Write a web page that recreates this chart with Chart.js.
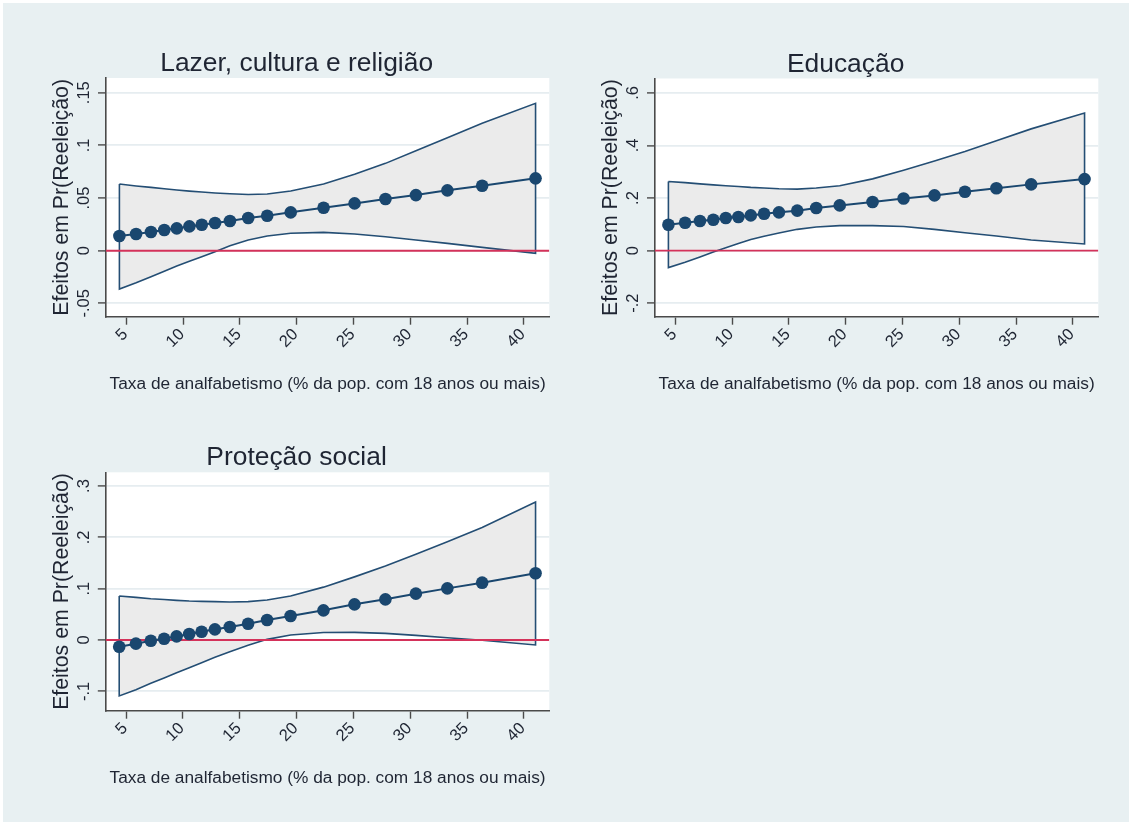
<!DOCTYPE html>
<html>
<head>
<meta charset="utf-8">
<title>Efeitos marginais da taxa de analfabetismo</title>
<script src="https://cdn.jsdelivr.net/npm/chart.js@4.4.1/dist/chart.umd.min.js"></script>
<style>
  html, body { margin: 0; padding: 0; background: #ffffff; }
  #frame { position: absolute; left: 3px; top: 3px; width: 1126px; height: 819px; background: #e8f0f2; }
  canvas { position: absolute; }
</style>
</head>
<body>
<div id="frame"></div>
<canvas id="lazer" width="560" height="410" style="left:0px;top:0px"></canvas>
<canvas id="educacao" width="560" height="410" style="left:560px;top:0px"></canvas>
<canvas id="protecao" width="560" height="410" style="left:0px;top:394px"></canvas>
<script>
// Illiteracy rate (% of population aged 18+) at which the effects are evaluated
const illiteracy = [4.40, 5.87, 7.18, 8.35, 9.45, 10.56, 11.65, 12.82, 14.13, 15.74,
                    17.41, 19.48, 22.37, 25.10, 27.82, 30.50, 33.27, 36.33, 41.03];

// Lazer, cultura e religião: effect and 95% CI
const lazerEffect = [0.0139, 0.0158, 0.0177, 0.0196, 0.0212, 0.0231, 0.0247, 0.0263, 0.0282, 0.0310,
                     0.0332, 0.0364, 0.0408, 0.0449, 0.0491, 0.0528, 0.0573, 0.0617, 0.0687];
const lazerUpper  = [0.0633, 0.0615, 0.0601, 0.0588, 0.0576, 0.0566, 0.0557, 0.0548, 0.0541, 0.0534,
                     0.0538, 0.0566, 0.0633, 0.0725, 0.0829, 0.0949, 0.1073, 0.1209, 0.1399];
const lazerLower  = [-0.0364, -0.0305, -0.0247, -0.0195, -0.0146, -0.0100, -0.0057, -0.0009, 0.0047, 0.0101,
                     0.0139, 0.0165, 0.0174, 0.0158, 0.0133, 0.0101, 0.0070, 0.0032, -0.0025];

// Educação: effect and 95% CI
const educEffect = [0.0987, 0.1063, 0.1127, 0.1177, 0.1240, 0.1278, 0.1340, 0.1405, 0.1456, 0.1520,
                    0.1620, 0.1720, 0.1850, 0.1980, 0.2100, 0.2240, 0.2370, 0.2520, 0.2720];
const educUpper  = [0.263, 0.2585, 0.254, 0.250, 0.247, 0.244, 0.2405, 0.238, 0.2354, 0.234,
                    0.238, 0.247, 0.273, 0.306, 0.341, 0.377, 0.418, 0.463, 0.523];
const educLower  = [-0.0646, -0.044, -0.024, -0.005, 0.0114, 0.027, 0.042, 0.055, 0.067, 0.081,
                    0.090, 0.095, 0.095, 0.092, 0.081, 0.068, 0.0557, 0.0405, 0.0253];

// Proteção social: effect and 95% CI
const protEffect = [-0.0130, -0.0071, -0.0013, 0.0026, 0.0071, 0.0117, 0.0162, 0.0208, 0.0253, 0.0318,
                    0.0390, 0.0468, 0.0578, 0.0695, 0.0792, 0.0903, 0.1006, 0.1117, 0.1300];
const protUpper  = [0.0857, 0.0830, 0.0805, 0.0790, 0.0773, 0.0760, 0.0753, 0.0747, 0.0740, 0.0747,
                    0.0780, 0.0857, 0.1030, 0.1230, 0.1440, 0.1670, 0.1916, 0.2190, 0.2690];
const protLower  = [-0.109, -0.0968, -0.0844, -0.074, -0.0636, -0.054, -0.0442, -0.0338, -0.0227, -0.0104,
                    0.0013, 0.0097, 0.0146, 0.0149, 0.0130, 0.0091, 0.0045, -0.0006, -0.0097];

// Axis ticks and their labels
const xTicks = [5, 10, 15, 20, 25, 30, 35, 40];
const xTickLabels = ['5', '10', '15', '20', '25', '30', '35', '40'];
const lazerYTicks = [-0.05, 0, 0.05, 0.1, 0.15];
const lazerYLabels = ['-.05', '0', '.05', '.1', '.15'];
const educYTicks = [-0.2, 0, 0.2, 0.4, 0.6];
const educYLabels = ['-.2', '0', '.2', '.4', '.6'];
const protYTicks = [-0.1, 0, 0.1, 0.2, 0.3];
const protYLabels = ['-.1', '0', '.1', '.2', '.3'];

const xTitle = 'Taxa de analfabetismo (% da pop. com 18 anos ou mais)';
const yTitle = 'Efeitos em Pr(Reeleição)';

// Styling
const NAVY = '#1a476f';
const BAND = '#ebebeb';
const ZERO = '#d4325a';
const GRID = '#e6edf0';
const AXIS = '#4a4a4a';
const TEXT = '#1f2533';
const FONT = '"Liberation Sans", Arial, Helvetica, sans-serif';

// Plot region, labels and backdrop drawn around the chart area
const panelDecor = {
  id: 'panelDecor',
  beforeDraw(chart) {
    const { ctx, chartArea: a } = chart;
    ctx.save();
    ctx.fillStyle = '#ffffff';
    ctx.fillRect(a.left, a.top, a.right - a.left, a.bottom - a.top);
    ctx.restore();
  },
  afterDraw(chart, args, o) {
    const { ctx, chartArea: a, scales: { x, y } } = chart;
    const cx = (a.left + a.right) / 2;
    const cy = (a.top + a.bottom) / 2;
    ctx.save();
    ctx.fillStyle = TEXT;

    ctx.font = '26.4px ' + FONT;
    ctx.textAlign = 'center';
    ctx.textBaseline = 'alphabetic';
    ctx.fillText(o.title, cx - 31, a.top - 7);

    ctx.font = '17.3px ' + FONT;
    ctx.fillText(xTitle, cx, a.bottom + 72);

    ctx.save();
    ctx.translate(a.left - 38, cy);
    ctx.rotate(-Math.PI / 2);
    ctx.font = '21.3px ' + FONT;
    ctx.textAlign = 'center';
    ctx.fillText(yTitle, 0, 0);
    ctx.restore();

    ctx.font = '16.5px ' + FONT;
    y.ticks.forEach((t, i) => {
      const py = y.getPixelForValue(t.value);
      ctx.save();
      ctx.translate(a.left - 17, py);
      ctx.rotate(-Math.PI / 2);
      ctx.textAlign = 'center';
      ctx.textBaseline = 'alphabetic';
      ctx.fillText(o.yLabels[i], 0, 0);
      ctx.restore();
    });

    x.ticks.forEach((t, i) => {
      const px = x.getPixelForValue(t.value);
      ctx.save();
      ctx.translate(px - 1, a.bottom + 15);
      ctx.rotate(-Math.PI / 4);
      ctx.textAlign = 'right';
      ctx.textBaseline = 'middle';
      ctx.fillText(xTickLabels[i], 0, 0);
      ctx.restore();
    });
    ctx.restore();
  }
};

function drawPanel(id, cfg) {
  const canvas = document.getElementById(id);
  const W = canvas.width, H = canvas.height;
  const p = cfg.plot;
  const xMin = 3.22, xMax = 42.24;

  const effect = illiteracy.map((v, i) => ({ x: v, y: cfg.effect[i] }));
  // closed outline of the confidence band: upper edge forward, lower edge back
  const band = illiteracy.map((v, i) => ({ x: v, y: cfg.upper[i] }))
    .concat(illiteracy.map((v, i) => ({ x: v, y: cfg.lower[i] })).reverse());
  band.push({ x: illiteracy[0], y: cfg.upper[0] });

  new Chart(canvas, {
    type: 'line',
    data: {
      datasets: [
        {
          data: effect, order: 0, borderColor: NAVY, borderWidth: 2,
          pointRadius: 6.3, pointBackgroundColor: NAVY, pointBorderWidth: 0,
          pointHoverRadius: 6.3, fill: false, tension: 0
        },
        {
          data: [{ x: xMin, y: 0 }, { x: xMax, y: 0 }], order: 1,
          borderColor: ZERO, borderWidth: 1.9, pointRadius: 0, fill: false
        },
        {
          data: band, order: 2, borderColor: '#244e74', borderWidth: 1.6,
          backgroundColor: BAND, fill: 'shape', pointRadius: 0, tension: 0
        }
      ]
    },
    options: {
      responsive: false,
      animation: false,
      devicePixelRatio: 1,
      events: [],
      layout: { padding: { left: 0, top: p.top, right: W - p.right, bottom: 0 } },
      plugins: {
        legend: { display: false },
        tooltip: { enabled: false },
        title: { display: false },
        panelDecor: { title: cfg.title, yLabels: cfg.yLabels }
      },
      scales: {
        x: {
          type: 'linear', min: xMin, max: xMax,
          afterBuildTicks: s => { s.ticks = xTicks.map(v => ({ value: v })); },
          afterFit: s => { s.height = H - p.bottom; },
          ticks: { display: false },
          grid: { drawOnChartArea: false, drawTicks: true, tickLength: 8, tickColor: AXIS, tickWidth: 1.4 },
          border: { display: true, color: AXIS, width: 1.6 }
        },
        y: {
          type: 'linear', min: cfg.yMin, max: cfg.yMax,
          afterBuildTicks: s => { s.ticks = cfg.yTicks.map(v => ({ value: v })); },
          afterFit: s => { s.width = p.left; },
          ticks: { display: false },
          grid: { color: GRID, lineWidth: 1.8, drawTicks: true, tickLength: 8, tickColor: AXIS, tickWidth: 1.4 },
          border: { display: true, color: AXIS, width: 1.6 }
        }
      }
    },
    plugins: [panelDecor]
  });
}

drawPanel('lazer', {
  title: 'Lazer, cultura e religião',
  effect: lazerEffect, upper: lazerUpper, lower: lazerLower,
  yTicks: lazerYTicks, yLabels: lazerYLabels, yMin: -0.06265, yMax: 0.16395,
  plot: { left: 106, top: 78, right: 549.3, bottom: 316.7 }
});
drawPanel('educacao', {
  title: 'Educação',
  effect: educEffect, upper: educUpper, lower: educLower,
  yTicks: educYTicks, yLabels: educYLabels, yMin: -0.2512, yMax: 0.6546,
  plot: { left: 95, top: 78.5, right: 538.3, bottom: 316.7 }
});
drawPanel('protecao', {
  title: 'Proteção social',
  effect: protEffect, upper: protUpper, lower: protLower,
  yTicks: protYTicks, yLabels: protYLabels, yMin: -0.1377, yMax: 0.3267,
  plot: { left: 105.8, top: 78.3, right: 549.3, bottom: 316.7 }
});
</script>
</body>
</html>
